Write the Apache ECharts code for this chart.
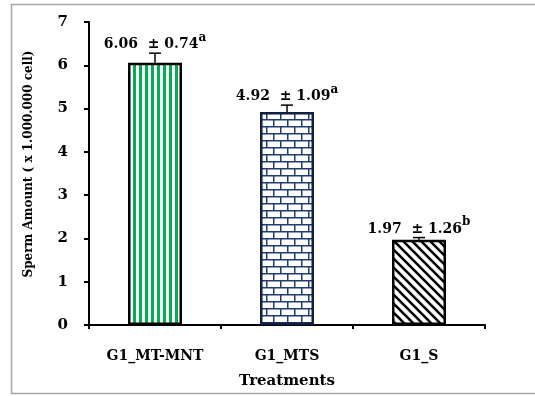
<!DOCTYPE html>
<html><head><meta charset="utf-8">
<script src="https://cdn.jsdelivr.net/npm/echarts@6/dist/echarts.min.js"></script>
<style>html,body{margin:0;padding:0;background:#fff}#c{width:535px;height:396px}</style>
</head><body><div id="c"></div>
<script>
const categories = ['G1_MT-MNT', 'G1_MTS', 'G1_S'];
const means = [6.06, 4.92, 1.97];
const errBars = [0.22, 0.16, 0.05];
const sdText = ['0.74', '1.09', '1.26'];
const letters = ['a', 'a', 'b'];
const yTicks = [0, 1, 2, 3, 4, 5, 6, 7];

function mk(w, h, draw) {
  const c = document.createElement('canvas');
  c.width = w; c.height = h;
  const g = c.getContext('2d');
  g.fillStyle = '#fff'; g.fillRect(0, 0, w, h);
  draw(g);
  return c;
}
const stripes = mk(6, 4, g => { g.fillStyle = '#00B050'; g.fillRect(1, 0, 3, 4); });
const bricks = mk(14, 14, g => {
  g.fillStyle = '#1F3D73';
  g.fillRect(0, 0, 14, 1.5); g.fillRect(0, 7, 14, 1.5);
  g.fillRect(0, 0, 1.5, 7); g.fillRect(7, 7, 1.5, 7);
});
const diag = mk(9, 9, g => {
  g.strokeStyle = '#000'; g.lineWidth = 2.6;
  for (let k = -9; k <= 9; k += 9) {
    g.beginPath(); g.moveTo(k - 2, -2); g.lineTo(k + 11, 11); g.stroke();
  }
});
const fills = [stripes, bricks, diag];
const borders = ['#000', '#0F1F3F', '#000'];

const serif = '"DejaVu Serif", serif';
const chart = echarts.init(document.getElementById('c'));
chart.setOption({
  animation: false,
  backgroundColor: '#fff',
  graphic: [{
    type: 'rect', shape: { x: 11.5, y: 4.5, width: 530, height: 389 },
    style: { fill: 'none', stroke: '#A6A6A6', lineWidth: 1.5 }, silent: true
  }, {
    type: 'text', x: 29, y: 164, rotation: Math.PI / 2, silent: true,
    style: { text: 'Sperm Amount ( x 1.000.000 cell)', align: 'center', verticalAlign: 'middle',
      fontFamily: serif, fontWeight: 'bold', fontSize: 12, fill: '#000' }
  }],
  grid: { left: 89, right: 50, top: 22, bottom: 71 },
  xAxis: {
    type: 'category', data: categories,
    name: 'Treatments', nameLocation: 'middle', nameGap: 49,
    nameTextStyle: { fontFamily: serif, fontWeight: 'bold', fontSize: 15, color: '#000' },
    axisLine: { lineStyle: { color: '#000', width: 2 } },
    axisTick: { show: true, length: 4, lineStyle: { color: '#000', width: 2 } },
    axisLabel: { fontFamily: serif, fontWeight: 'bold', fontSize: 14, color: '#000', margin: 24 }
  },
  yAxis: {
    type: 'value', min: 0, max: 7, interval: 1,
    axisLine: { show: true, lineStyle: { color: '#000', width: 2 } },
    axisTick: { show: true, length: 5, lineStyle: { color: '#000', width: 2 } },
    splitLine: { show: false },
    axisLabel: { fontFamily: serif, fontWeight: 'bold', fontSize: 15, color: '#000', margin: 21,
      formatter: v => yTicks.includes(v) ? String(v) : '' }
  },
  series: [{
    type: 'bar', barWidth: 54,
    data: means.map((v, i) => ({
      value: v,
      itemStyle: { color: { image: fills[i], repeat: 'repeat' }, borderColor: borders[i], borderWidth: 2.5 }
    })),
    z: 2
  }, {
    type: 'custom', z: 5,
    data: means.map((v, i) => [i, v, errBars[i]]),
    renderItem: (params, api) => {
      const i = api.value(0), v = api.value(1), e = api.value(2);
      const base = api.coord([i, v]);
      const top = api.coord([i, v + e]);
      const x = base[0];
      return {
        type: 'group', children: [
          { type: 'line', shape: { x1: x, y1: base[1], x2: x, y2: top[1] }, style: { stroke: '#000', lineWidth: 1.5 } },
          { type: 'line', shape: { x1: x - 6, y1: top[1], x2: x + 6, y2: top[1] }, style: { stroke: '#000', lineWidth: 1.5 } },
          { type: 'text', x: x, y: top[1] - 11.5, style: {
              text: '{m|' + means[i].toFixed(2) + '  ± ' + sdText[i] + '}{s|' + letters[i] + '}',
              align: 'center', verticalAlign: 'middle',
              rich: {
                m: { fontFamily: serif, fontWeight: 'bold', fontSize: 14, fill: '#000', lineHeight: 20, verticalAlign: 'bottom' },
                s: { fontFamily: serif, fontWeight: 'bold', fontSize: 12, fill: '#000', lineHeight: 20, verticalAlign: 'top' }
              }
            } }
        ]
      };
    }
  }]
});
</script></body></html>
